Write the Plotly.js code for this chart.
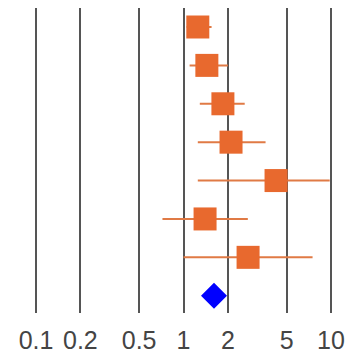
<!DOCTYPE html>
<html>
<head>
<meta charset="utf-8">
<script src="https://cdn.plot.ly/plotly-3.0.1.min.js"></script>
<style>html,body{margin:0;padding:0;background:#fff;}#chart{width:346px;height:361px;}</style>
</head>
<body>
<div id="chart"></div>
<script>
// Study estimates (odds ratios) with confidence intervals
const studies = [0, 1, 2, 3, 4, 5, 6];
const estimates = [1.25, 1.44, 1.85, 2.1, 4.24, 1.4, 2.74];
const ciLow = [1.05, 1.1, 1.29, 1.25, 1.25, 0.72, 1.0];
const ciHigh = [1.55, 2.0, 2.6, 3.6, 9.8, 2.73, 7.5];
const pooledRow = [7];
const pooledEstimate = [1.61];
const tickValues = [0.1, 0.2, 0.5, 1, 2, 5, 10];
const tickLabels = ['0.1', '0.2', '0.5', '1', '2', '5', '10'];

const errPlus = estimates.map((v, i) => ciHigh[i] - v);
const errMinus = estimates.map((v, i) => v - ciLow[i]);

const traces = [
  {
    type: 'scatter', mode: 'markers',
    x: estimates, y: studies,
    marker: {symbol: 'square', size: 23, color: '#e8692e'},
    error_x: {type: 'data', symmetric: false, array: errPlus, arrayminus: errMinus,
              color: '#e07a45', thickness: 2, width: 0},
    hoverinfo: 'x'
  },
  {
    type: 'scatter', mode: 'markers',
    x: pooledEstimate, y: pooledRow,
    marker: {symbol: 'diamond', size: 20, color: '#0000ff'},
    hoverinfo: 'x'
  }
];

const layout = {
  width: 346, height: 361,
  margin: {l: 20, r: 5, t: 8, b: 48},
  paper_bgcolor: '#fff', plot_bgcolor: '#fff',
  showlegend: false,
  font: {family: 'Liberation Sans, Arial, sans-serif', color: '#444'},
  xaxis: {
    type: 'log', range: [-1.1085, 1.0678],
    tickvals: tickValues, ticktext: tickLabels,
    showgrid: true, gridcolor: '#555', gridwidth: 2,
    zeroline: false, showline: false, ticks: '',
    ticklabelstandoff: 10,
    tickfont: {size: 25, color: '#444'}
  },
  yaxis: {
    range: [7.45, -0.495],
    showgrid: false, zeroline: false, showline: false,
    showticklabels: false, ticks: ''
  }
};

Plotly.newPlot('chart', traces, layout, {displayModeBar: false, staticPlot: true});
</script>
</body>
</html>
